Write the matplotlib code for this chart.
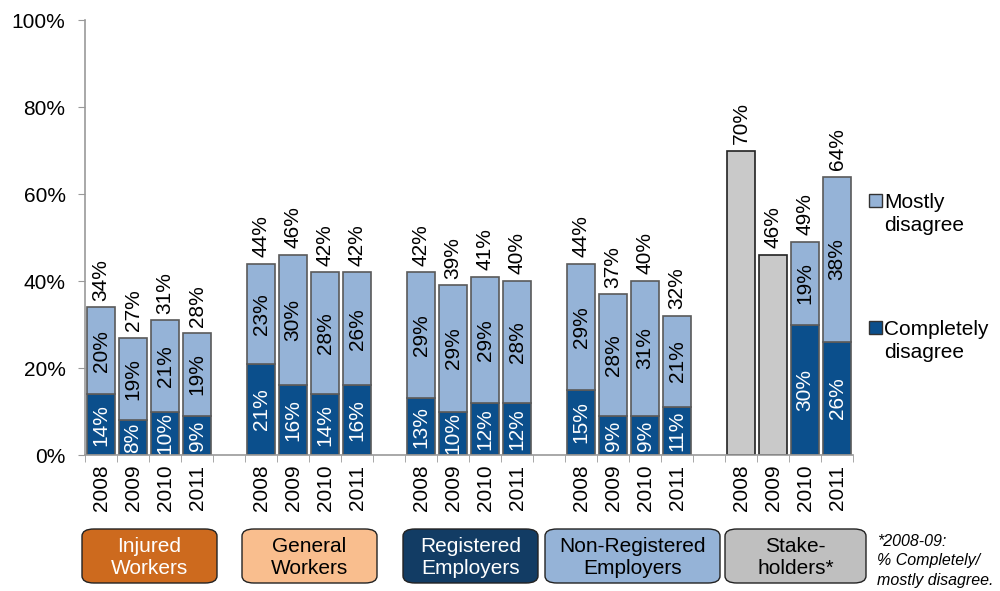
import numpy as np
import matplotlib
matplotlib.use('Agg')
import matplotlib.pyplot as plt
from matplotlib.patches import FancyBboxPatch, Rectangle

plt.rcParams['font.family'] = ['Liberation Sans', 'DejaVu Sans']

groups = ['Injured\nWorkers', 'General\nWorkers', 'Registered\nEmployers',
          'Non-Registered\nEmployers', 'Stake-\nholders*']
years = ['2008', '2009', '2010', '2011']

# per group, per year
completely = [[14, 8, 10, 9],
              [21, 16, 14, 16],
              [13, 10, 12, 12],
              [15, 9, 9, 11],
              [None, None, 30, 26]]
mostly = [[20, 19, 21, 19],
          [23, 30, 28, 26],
          [29, 29, 29, 28],
          [29, 28, 31, 21],
          [None, None, 19, 38]]
combined = [[34, 27, 31, 28],
            [44, 46, 42, 42],
            [42, 39, 41, 40],
            [44, 37, 40, 32],
            [70, 46, 49, 64]]

dark = '#0B4F8C'
light = '#95B3D7'
grey = '#C9C9C9'
edge = '#5A5A5A'
box_colors = ['#CD6A1E', '#F9BE8E', '#123C64', '#95B3D7', '#BFBFBF']
box_text = ['white', 'black', 'white', 'black', 'black']

fig = plt.figure(figsize=(10, 5.91), dpi=100)
ax = fig.add_axes([0.085, 0.2301, 0.768, 0.736])

w = 0.87
fs = 15
xticks, xlabels = [], []
for g in range(len(groups)):
    for j in range(len(years)):
        x = g * 5 + j
        xticks.append(x)
        xlabels.append(years[j])
        c, m, t = completely[g][j], mostly[g][j], combined[g][j]
        if c is None:
            ax.bar(x, t, w, color=grey, edgecolor='#222222', linewidth=1.2)
        else:
            ax.bar(x, c, w, color=dark, edgecolor=edge, linewidth=1.2)
            ax.bar(x, m, w, bottom=c, color=light, edgecolor=edge, linewidth=1.2)
            ax.text(x, c / 2, f'{c}%', rotation=90, ha='center', va='center',
                    color='white', fontsize=fs)
            ax.text(x, c + m / 2, f'{m}%', rotation=90, ha='center', va='center',
                    color='black', fontsize=fs)
        ax.text(x, t + 1.5, f'{t}%', rotation=90, ha='center', va='bottom',
                color='black', fontsize=fs)

ax.set_xlim(-0.5, 23.5)
ax.set_ylim(0, 100)
ax.set_yticks(np.arange(0, 101, 20))
ax.set_yticklabels([f'{v}%' for v in range(0, 101, 20)], fontsize=15)
ax.set_xticks(xticks)
ax.set_xticklabels(xlabels, rotation=90, fontsize=15)
ax.set_xticks(np.arange(-0.5, 24, 1), minor=True)
ax.tick_params(axis='x', which='major', length=0, pad=7)
ax.tick_params(axis='x', which='minor', length=5, color='#999999')
ax.tick_params(axis='y', length=5, color='#999999', pad=9)
for s in ['top', 'right']:
    ax.spines[s].set_visible(False)
for s in ['left', 'bottom']:
    ax.spines[s].set_color('#999999')
    ax.spines[s].set_linewidth(1.2)

# group boxes
box_x = [(82, 217), (242, 377), (403, 538), (545, 720), (725, 866)]
for (x0, x1), lab, fc, tc in zip(box_x, groups, box_colors, box_text):
    fig.patches.append(FancyBboxPatch((x0 / 1000, 1 - 583 / 591), (x1 - x0) / 1000, 54 / 591,
                                      boxstyle='round,pad=0,rounding_size=0.012',
                                      transform=fig.transFigure, facecolor=fc,
                                      edgecolor='#222222', linewidth=1))
    fig.text((x0 + x1) / 2000, 1 - 558 / 591, lab, ha='center', va='center',
             color=tc, fontsize=15, linespacing=1.2)

fig.text(0.877, 1 - 561 / 591, '*2008-09:\n% Completely/\nmostly disagree.',
         ha='left', va='center', fontsize=11.5, style='italic', linespacing=1.35)

# legend
for y, fc, lab in [(200, light, 'Mostly\ndisagree'), (327, dark, 'Completely\ndisagree')]:
    fig.patches.append(Rectangle((869 / 1000, 1 - (y + 7) / 591), 13 / 1000, 13 / 591,
                                 transform=fig.transFigure, facecolor=fc,
                                 edgecolor='#333333', linewidth=1))
    fig.text(884 / 1000, 1 - (y + 14) / 591, lab, ha='left', va='center', fontsize=15,
             linespacing=1.25)

fig.savefig('out.png', dpi=100)
